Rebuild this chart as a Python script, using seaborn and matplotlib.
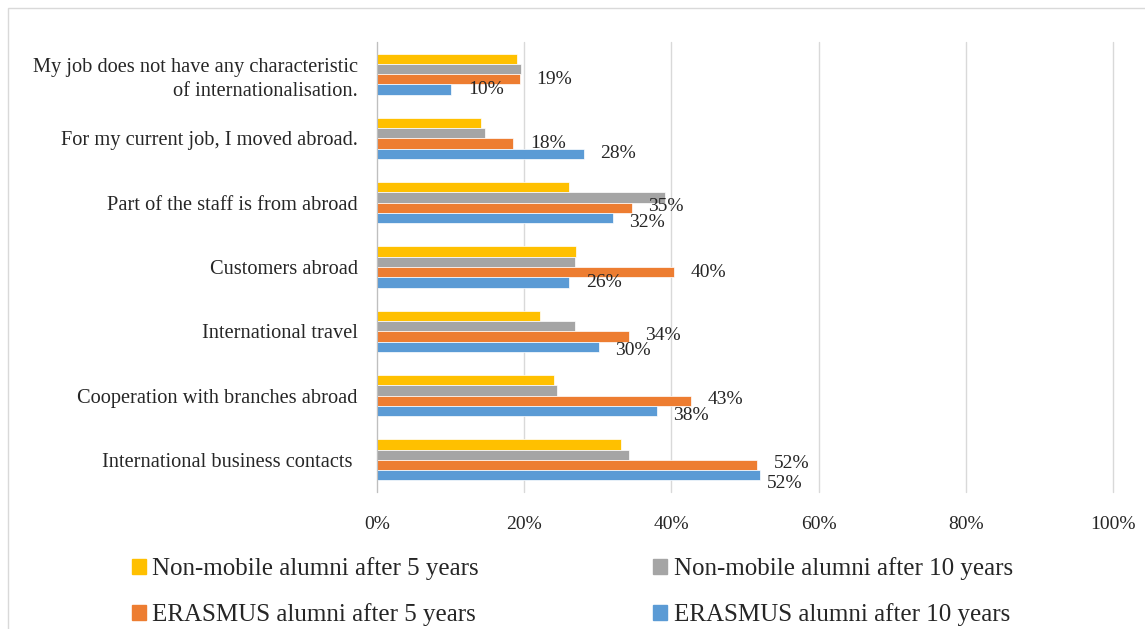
import matplotlib
matplotlib.use("Agg")
import matplotlib.pyplot as plt
import seaborn as sns
import pandas as pd
from matplotlib.patches import Rectangle

sns.set_style("white")
plt.rcParams['font.family'] = ['Liberation Serif', 'DejaVu Serif']

# Data (percent)
categories = [
    "My job does not have any characteristic\nof internationalisation.",
    "For my current job, I moved abroad.",
    "Part of the staff is from abroad",
    "Customers abroad",
    "International travel",
    "Cooperation with branches abroad",
    "International business contacts ",
]
series = [
    "Non-mobile alumni after 5 years",
    "Non-mobile alumni after 10 years",
    "ERASMUS alumni after 5 years",
    "ERASMUS alumni after 10 years",
]
nonmobile_5 = [19.0, 14.1, 26.1, 27.1, 22.1, 24.1, 33.1]
nonmobile_10 = [19.6, 14.7, 39.1, 26.9, 26.9, 24.5, 34.2]
erasmus_5 = [19.4, 18.5, 34.6, 40.4, 34.2, 42.7, 51.6]
erasmus_10 = [10.1, 28.1, 32.0, 26.1, 30.1, 38.0, 52.0]
colors = ["#FFC000", "#A5A5A5", "#ED7D31", "#5B9BD5"]
x_ticks = [0, 20, 40, 60, 80, 100]

rows = []
for name, vals in zip(series, [nonmobile_5, nonmobile_10, erasmus_5, erasmus_10]):
    for cat, v in zip(categories, vals):
        rows.append({"category": cat, "series": name, "value": v})
df = pd.DataFrame(rows)

fig = plt.figure(figsize=(11.45, 6.29), dpi=100)
ax = fig.add_axes([377 / 1145, 1 - 492 / 629, (1113 - 377) / 1145, 450 / 629])

sns.barplot(data=df, y="category", x="value", hue="series", order=categories,
            hue_order=series, palette=colors, saturation=1, orient="h", width=0.64,
            edgecolor="white", linewidth=0.5, ax=ax, legend=False)

# data labels only for the ERASMUS series
for p5, p10 in zip(ax.containers[2], ax.containers[3]):
    diff = abs(p5.get_width() - p10.get_width())
    if diff < 1.0:
        offs = [(12, 1), (5, -6)]
    elif diff < 5.0:
        offs = [(12, 1), (12, -3)]
    else:
        offs = [(12, 0), (12, 0)]
    for patch, (dx, dy) in zip([p5, p10], offs):
        w = patch.get_width()
        yc = patch.get_y() + patch.get_height() / 2
        ax.annotate(f"{w:.0f}%", (w, yc), xytext=(dx, dy), textcoords="offset points",
                    ha="left", va="center", fontsize=14, color="#262626")

ax.set_xlim(0, 100)
ax.set_ylim(6.5, -0.5)
ax.set_xticks(x_ticks)
ax.set_xticklabels([f"{t}%" for t in x_ticks])
ax.xaxis.grid(True, color="#D9D9D9", linewidth=1)
for gl in ax.get_xgridlines():
    gl.set_clip_on(False)
ax.set_axisbelow(True)
ax.set_xlabel("")
ax.set_ylabel("")
for s in ["top", "right", "bottom"]:
    ax.spines[s].set_visible(False)
ax.spines["left"].set_color("#BFBFBF")
ax.tick_params(axis="x", length=0, pad=17, labelsize=14, colors="#262626")
ax.tick_params(axis="y", length=0, pad=14, labelsize=14.7, colors="#262626")
for lbl in ax.get_yticklabels():
    lbl.set_horizontalalignment("right")
    lbl.set_multialignment("right")
    lbl.set_linespacing(1.35)

# legend: two rows, row-major order
handles = [Rectangle((0, 0), 1, 1, color=c) for c in colors]
order = [0, 2, 1, 3]
fig.legend([handles[i] for i in order], [series[i] for i in order],
           loc="upper left", bbox_to_anchor=(109 / 1145, 1 - 535 / 629), ncol=2,
           frameon=False, fontsize=18, handlelength=0.56, handleheight=0.56,
           handletextpad=0.25, columnspacing=7.0, labelspacing=0.92,
           labelcolor="#262626")

# chart border
fig.patches.append(Rectangle((8 / 1145, -0.01), 1.0, 1.01 - 8 / 629,
                             transform=fig.transFigure, fill=False,
                             edgecolor="#D9D9D9", linewidth=1))

fig.savefig("out.png", dpi=100)
